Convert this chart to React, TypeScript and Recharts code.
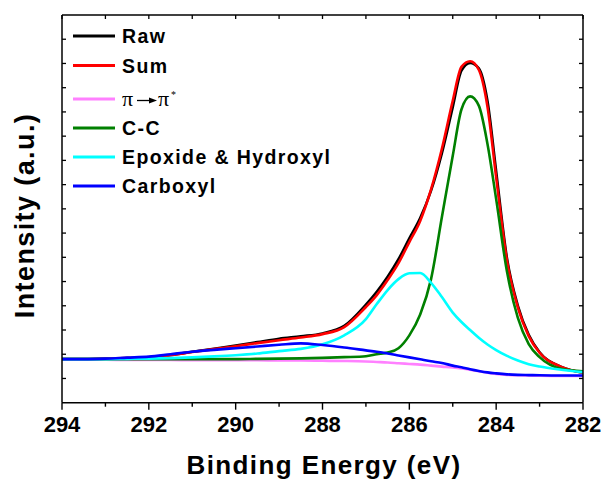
import React from "react";
import { LineChart, Line, XAxis, YAxis, Legend, Label } from "recharts";

// Binding energy (eV)
const energy = [294, 293.5, 293, 292.5, 292, 291.5, 291, 290.5, 290, 289.5, 289, 288.5, 288, 287.5, 287, 286.75, 286.5, 286.25, 286, 285.75, 285.5, 285.25, 285, 284.8, 284.6, 284.4, 284.2, 284, 283.75, 283.5, 283.25, 283, 282.5, 282];
const raw = [1.80, 1.80, 1.82, 1.84, 1.87, 1.97, 2.10, 2.23, 2.36, 2.50, 2.64, 2.74, 2.86, 3.17, 4.05, 4.58, 5.20, 5.92, 6.78, 7.62, 8.75, 10.30, 12.20, 13.70, 14.02, 13.80, 12.45, 9.55, 5.95, 4.00, 2.80, 2.08, 1.48, 1.24];
const sum = [1.80, 1.80, 1.82, 1.84, 1.86, 1.96, 2.09, 2.21, 2.33, 2.46, 2.58, 2.69, 2.83, 3.12, 3.95, 4.44, 5.06, 5.76, 6.63, 7.50, 8.80, 10.48, 12.46, 13.86, 14.09, 13.74, 12.21, 9.30, 5.85, 3.92, 2.75, 2.06, 1.48, 1.25];
const piPi = [1.78, 1.77, 1.77, 1.76, 1.76, 1.76, 1.75, 1.75, 1.75, 1.75, 1.74, 1.74, 1.73, 1.72, 1.70, 1.68, 1.66, 1.63, 1.60, 1.57, 1.53, 1.49, 1.45, 1.41, 1.36, 1.30, 1.24, 1.19, 1.15, 1.13, 1.12, 1.11, 1.10, 1.10];
const cc = [1.80, 1.80, 1.80, 1.80, 1.80, 1.80, 1.80, 1.80, 1.80, 1.81, 1.82, 1.83, 1.85, 1.88, 1.92, 2.00, 2.07, 2.25, 2.78, 3.64, 5.10, 7.66, 10.19, 12.10, 12.64, 12.26, 10.68, 8.40, 5.40, 3.50, 2.42, 1.88, 1.40, 1.30];
const epoxide = [1.80, 1.80, 1.80, 1.81, 1.82, 1.84, 1.87, 1.91, 1.96, 2.03, 2.13, 2.22, 2.41, 2.78, 3.45, 4.07, 4.65, 5.10, 5.34, 5.35, 4.95, 4.36, 3.72, 3.33, 3.00, 2.68, 2.40, 2.17, 1.93, 1.74, 1.59, 1.49, 1.36, 1.26];
const carboxyl = [1.80, 1.80, 1.82, 1.86, 1.90, 2.00, 2.10, 2.18, 2.25, 2.32, 2.39, 2.45, 2.38, 2.28, 2.16, 2.10, 2.03, 1.95, 1.87, 1.79, 1.71, 1.64, 1.53, 1.46, 1.38, 1.31, 1.25, 1.21, 1.17, 1.15, 1.14, 1.13, 1.12, 1.12];

const seriesKeys = ["raw", "sum", "piPi", "cc", "epoxide", "carboxyl"];
const seriesNames = ["Raw", "Sum", "π→π*", "C-C", "Epoxide & Hydroxyl", "Carboxyl"];
const seriesColors = ["#000000", "#ff0000", "#ff80ff", "#008000", "#00ffff", "#0000ff"];

const majorTicks = [294, 292, 290, 288, 286, 284, 282];
const allXTicks = [282, 283, 284, 285, 286, 287, 288, 289, 290, 291, 292, 293, 294];
const yTicks = [0, 1, 2, 3, 4, 5, 6, 7, 8, 9, 10, 11, 12, 13, 14, 15, 16];

const data = energy.map((ev, i) => ({
  ev,
  raw: raw[i],
  sum: sum[i],
  piPi: piPi[i],
  cc: cc[i],
  epoxide: epoxide[i],
  carboxyl: carboxyl[i],
}));

const FONT = "'Liberation Sans', Arial, sans-serif";
const SERIF = "'Liberation Serif', 'Times New Roman', serif";
const W = 605;
const H = 486;

const BottomTick = (props: any) => {
  const { x, y, payload } = props;
  const v = payload.value;
  const major = majorTicks.includes(v);
  return (
    <g>
      <line x1={x} x2={x} y1={y} y2={y + (major ? 7 : 4)} stroke="#000" strokeWidth={1.4} />
      {major && (
        <text x={x} y={y + 29} textAnchor="middle" fontFamily={FONT} fontWeight="bold" fontSize={22} fill="#000">
          {v}
        </text>
      )}
    </g>
  );
};

const TopTick = (props: any) => {
  const { x, y } = props;
  return <line x1={x} x2={x} y1={y} y2={y + 4} stroke="#000" strokeWidth={1.3} />;
};

const LeftTick = (props: any) => {
  const { x, y, payload } = props;
  if (payload.value === 0 || payload.value === 16) return <g />;
  return <line x1={x} x2={x + 4} y1={y} y2={y} stroke="#000" strokeWidth={1.3} />;
};

const RightTick = (props: any) => {
  const { x, y, payload } = props;
  if (payload.value === 0 || payload.value === 16) return <g />;
  return <line x1={x - 4} x2={x} y1={y} y2={y} stroke="#000" strokeWidth={1.3} />;
};

const XTitle = () => (
  <text x={324} y={474} textAnchor="middle" fontFamily={FONT} fontWeight="bold" fontSize={26} letterSpacing={1.4} fill="#000">
    Binding Energy (eV)
  </text>
);

const YTitle = () => (
  <text
    x={34}
    y={215.5}
    transform="rotate(-90, 34, 215.5)"
    textAnchor="middle"
    fontFamily={FONT}
    fontWeight="bold"
    fontSize={27}
    letterSpacing={1.4}
    fill="#000"
  >
    Intensity (a.u.)
  </text>
);

const rowY = [36, 65.5, 99, 128, 157, 186];

const LegendContent = (props: any) => {
  const payload = props.payload || [];
  const colorOf = (name: string, i: number) => {
    const p = payload.find((e: any) => e.value === name);
    return p ? p.color : seriesColors[i];
  };
  return (
    <svg width={320} height={210} style={{ display: "block", overflow: "visible" }}>
      {seriesNames.map((name, i) => {
        const cy = rowY[i];
        const isPi = i === 2;
        return (
          <g key={name}>
            <line x1={73} x2={115} y1={cy} y2={cy} stroke={colorOf(name, i)} strokeWidth={3} />
            {isPi ? (
              <g>
                <text x={122} y={cy + 7} fontFamily={SERIF} fontSize={22} fill="#000">
                  π
                </text>
                <line x1={137} x2={151} y1={cy + 1.5} y2={cy + 1.5} stroke="#000" strokeWidth={1.3} />
                <polygon points={`${149},${cy - 1.5} ${157},${cy + 1.5} ${149},${cy + 4.5}`} fill="#000" />
                <text x={158} y={cy + 7} fontFamily={SERIF} fontSize={22} fill="#000">
                  π
                </text>
                <text x={171} y={cy - 1} fontFamily={SERIF} fontSize={10} fill="#000">
                  *
                </text>
              </g>
            ) : (
              <text x={122} y={cy + 7} fontFamily={FONT} fontWeight="bold" fontSize={19.5} letterSpacing={1.4} fill="#000">
                {name}
              </text>
            )}
          </g>
        );
      })}
    </svg>
  );
};

export default function App() {
  return (
    <div style={{ position: "fixed", left: 0, top: 0, width: W, height: H, background: "#fff" }}>
      <LineChart width={W} height={H} data={data} margin={{ top: 14, right: 21, bottom: 82.3, left: 61 }}>
        <XAxis
          xAxisId="b"
          dataKey="ev"
          type="number"
          domain={[282, 294]}
          reversed
          allowDataOverflow
          ticks={allXTicks}
          interval={0}
          tickSize={0}
          tickMargin={0}
          tickLine={false}
          tick={<BottomTick />}
          height={1}
          axisLine={{ stroke: "#000", strokeWidth: 1.5 }}
        >
          <Label content={<XTitle />} />
        </XAxis>
        <XAxis
          xAxisId="t"
          orientation="top"
          dataKey="ev"
          type="number"
          domain={[282, 294]}
          reversed
          allowDataOverflow
          ticks={allXTicks}
          interval={0}
          tickSize={0}
          tickMargin={0}
          tickLine={false}
          tick={<TopTick />}
          height={1}
          axisLine={{ stroke: "#000", strokeWidth: 1.5 }}
        />
        <YAxis
          yAxisId="l"
          type="number"
          domain={[0, 16]}
          allowDataOverflow
          ticks={yTicks}
          interval={0}
          tickSize={0}
          tickMargin={0}
          tickLine={false}
          tick={<LeftTick />}
          width={1}
          axisLine={{ stroke: "#000", strokeWidth: 1.5 }}
        >
          <Label content={<YTitle />} />
        </YAxis>
        <YAxis
          yAxisId="r"
          orientation="right"
          type="number"
          domain={[0, 16]}
          allowDataOverflow
          ticks={yTicks}
          interval={0}
          tickSize={0}
          tickMargin={0}
          tickLine={false}
          tick={<RightTick />}
          width={1}
          axisLine={{ stroke: "#000", strokeWidth: 1.5 }}
        />
        <Legend
          layout="horizontal"
          verticalAlign="middle"
          align="center"
          wrapperStyle={{ left: 0, top: 0, width: 320, height: 210 }}
          content={<LegendContent />}
        />
        {seriesKeys.map((k, i) => (
          <Line
            key={k}
            xAxisId="b"
            yAxisId="l"
            type="monotone"
            dataKey={k}
            name={seriesNames[i]}
            stroke={seriesColors[i]}
            strokeWidth={2.6}
            dot={false}
            isAnimationActive={false}
          />
        ))}
      </LineChart>
    </div>
  );
}
